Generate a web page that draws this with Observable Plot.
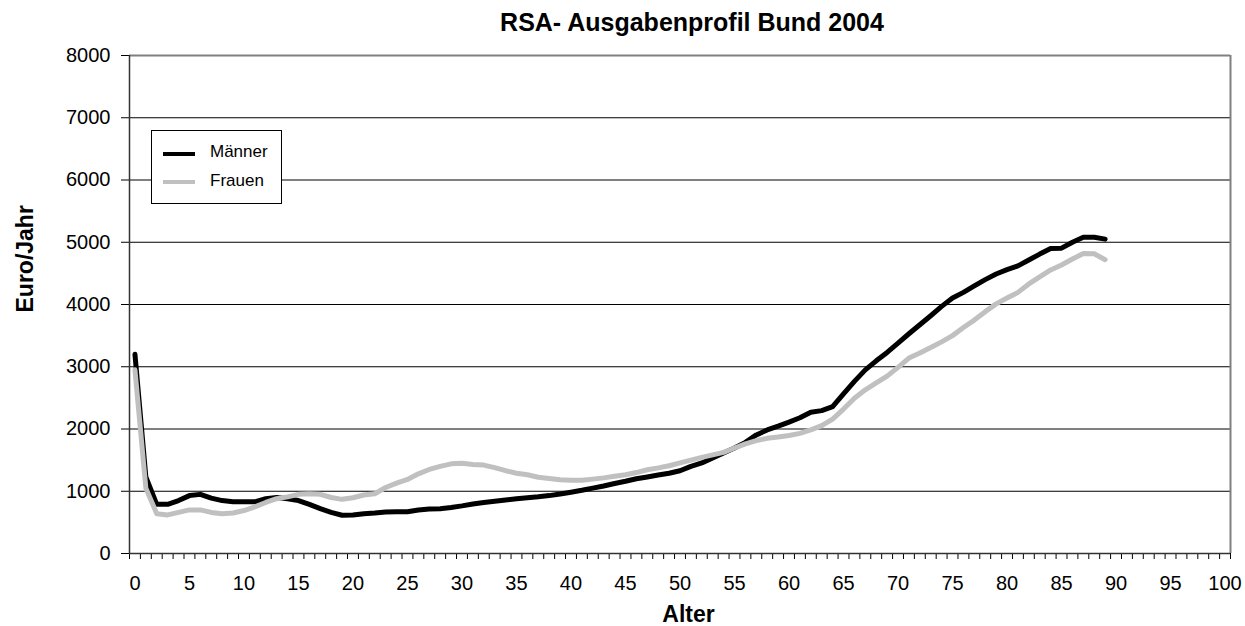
<!DOCTYPE html>
<html>
<head>
<meta charset="utf-8">
<script src="https://cdn.jsdelivr.net/npm/d3@7"></script>
<script src="https://cdn.jsdelivr.net/npm/@observablehq/plot@0.6"></script>
<style>
  body { margin: 0; background: #fff; font-family: "Liberation Sans", Arial, sans-serif; }
  #wrap { position: relative; width: 1245px; height: 626px; overflow: hidden; background: #fff; }
  #title { position: absolute; left: 0; top: 0; width: 1384px; height: 50px; line-height: 44px;
           text-align: center; font-size: 25px; font-weight: bold; color: #000; white-space: nowrap; }
  #chart { position: absolute; left: 0; top: 50px; }
  #legend { position: absolute; left: 151px; top: 130px; width: 129px; height: 72px;
            border: 1px solid #000; background: #fff; }
  .sw { position: absolute; left: 11px; width: 32px; height: 4px; }
  .lt { position: absolute; left: 58px; font-size: 17px; line-height: 20px; color: #000; white-space: nowrap; }
</style>
</head>
<body>
<div id="wrap">
  <div id="title"></div>
  <div id="chart"></div>
  <div id="legend"></div>
</div>
<script>
// ---- Data ----
const titleText = "RSA- Ausgabenprofil Bund 2004";
const xTitle = "Alter";
const yTitle = "Euro/Jahr";
const seriesNames = ["Männer", "Frauen"];
const seriesColors = ["#000000", "#c0c0c0"];

const ages = d3.range(0, 90); // Alter 0 .. 89

const maenner = [
  3200, 1230, 790, 790, 850, 930, 950, 890, 850, 830,
  830, 830, 880, 900, 880, 850, 790, 720, 660, 615,
  620, 640, 650, 665, 670, 670, 700, 715, 720, 740,
  765, 795, 820, 840, 860, 880, 895, 910, 930, 955,
  985, 1015, 1050, 1085, 1125, 1160, 1200, 1230, 1260, 1290,
  1330, 1400, 1455, 1535, 1615, 1695, 1785, 1905, 1985, 2045,
  2110, 2180, 2270, 2295, 2360, 2565, 2765, 2950, 3095, 3230,
  3380, 3530, 3675, 3820, 3970, 4105, 4195, 4300, 4400, 4490,
  4560, 4620, 4715, 4810, 4900, 4905, 5000, 5080, 5080, 5050
];

const frauen = [
  2950, 1050, 640, 620, 660, 700, 700, 660, 640, 650,
  690, 750, 820, 880, 910, 950, 960, 950, 900, 870,
  895, 940, 960, 1060, 1130, 1190, 1280, 1350, 1400, 1440,
  1450, 1430, 1420, 1380, 1330, 1290, 1265, 1225, 1205, 1185,
  1175, 1175, 1195, 1215, 1240, 1265, 1300, 1345, 1375, 1410,
  1455, 1500, 1545, 1585, 1625, 1695, 1760, 1815, 1850, 1870,
  1895, 1930, 1985, 2055, 2160, 2320, 2495, 2630, 2740, 2850,
  2990, 3140, 3220, 3310, 3400, 3500, 3630, 3750, 3885, 4010,
  4105, 4195, 4330, 4445, 4555, 4635, 4730, 4820, 4815, 4720
];

const xLabels = [0, 5, 10, 15, 20, 25, 30, 35, 40, 45, 50, 55, 60, 65, 70, 75, 80, 85, 90, 95, 100];
const yTicks = [0, 1000, 2000, 3000, 4000, 5000, 6000, 7000, 8000];

// ---- Derived ----
const xDomain = [xLabels[0] - 0.5, xLabels[xLabels.length - 1] + 0.5];
const boundaries = d3.range(xDomain[0], xDomain[1] + 0.01, 1);
const series = [maenner, frauen];

document.getElementById("title").textContent = titleText;

const font = "Liberation Sans, Arial, sans-serif";

const lineMarks = series.map((vals, s) =>
  Plot.line(ages, {
    x: d => d,
    y: (d, i) => vals[i],
    stroke: seriesColors[s],
    strokeWidth: 5,
    strokeLinejoin: "round",
    strokeLinecap: "round"
  })
);

const chart = Plot.plot({
  width: 1245,
  height: 576,
  marginTop: 5,
  marginRight: 15,
  marginBottom: 73,
  marginLeft: 129,
  style: { fontFamily: font, fontSize: "20px", color: "#000", background: "#fff", overflow: "visible" },
  x: { domain: xDomain, ticks: boundaries, tickFormat: () => "", tickSize: 6, label: null },
  y: { domain: [yTicks[0], yTicks[yTicks.length - 1]], ticks: yTicks, tickSize: 8, tickPadding: 11,
       tickFormat: d => String(d), label: null },
  marks: [
    Plot.ruleY(yTicks.slice(1, -1), { stroke: "#000", strokeWidth: 1 }),
    Plot.ruleY([yTicks[yTicks.length - 1]], { stroke: "#808080", strokeWidth: 2 }),
    Plot.ruleX([xDomain[1]], { stroke: "#808080", strokeWidth: 2 }),
    Plot.ruleX([xDomain[0]], { stroke: "#333", strokeWidth: 1.5 }),
    Plot.ruleY([yTicks[0]], { stroke: "#333", strokeWidth: 1.5 }),
    ...lineMarks,
    Plot.text(xLabels, { x: d => d, y: yTicks[0], dy: 30, text: d => String(d), fontSize: 20,
                         lineAnchor: "middle", fill: "#000" }),
    Plot.text([yTitle], { frameAnchor: "left", text: d => d, rotate: -90, dx: -104, dy: 8,
                          fontSize: 23, fontWeight: "bold", lineAnchor: "middle", fill: "#000" }),
    Plot.text([xTitle], { frameAnchor: "bottom", text: d => d, dx: 8.5, dy: 61,
                          fontSize: 23, fontWeight: "bold", lineAnchor: "middle", fill: "#000" })
  ]
});
document.getElementById("chart").appendChild(chart);

// ---- Legend ----
const legend = document.getElementById("legend");
const swTops = [20.5, 49];
const txtTops = [10.8, 39.8];
seriesNames.forEach((name, i) => {
  const sw = document.createElement("div");
  sw.className = "sw";
  sw.style.top = swTops[i] + "px";
  sw.style.background = seriesColors[i];
  legend.appendChild(sw);
  const t = document.createElement("div");
  t.className = "lt";
  t.style.top = txtTops[i] + "px";
  t.textContent = name;
  legend.appendChild(t);
});
</script>
</body>
</html>
